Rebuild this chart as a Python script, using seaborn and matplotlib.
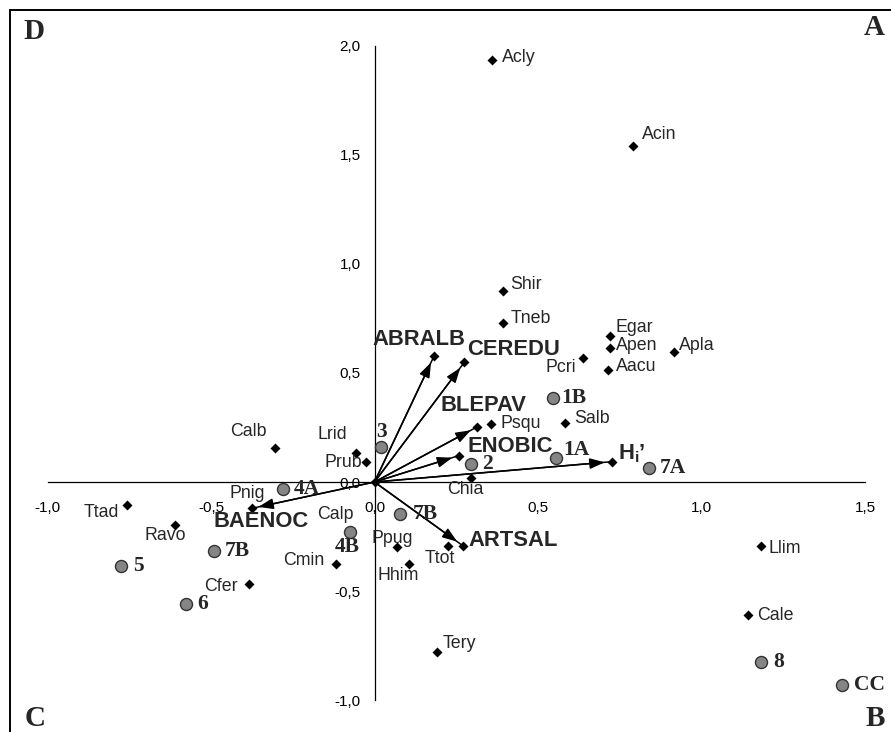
import numpy as np
import pandas as pd
import matplotlib
matplotlib.use("Agg")
import matplotlib.pyplot as plt
from matplotlib.patches import Rectangle
import seaborn as sns

# species scores
species = ["Acly", "Acin", "Shir", "Tneb", "Egar", "Apen", "Aacu", "Pcri", "Apla",
           "Psqu", "Salb", "Chia", "Calb", "Lrid", "Prub", "Pnig", "Calp", "Ttad",
           "Ravo", "Cfer", "Cmin", "Ppug", "Hhim", "Ttot", "Tery", "Llim", "Cale"]
species_x = [0.358, 0.791, 0.392, 0.392, 0.719, 0.719, 0.713, 0.639, 0.917,
             0.355, 0.583, 0.295, -0.303, -0.057, -0.026, -0.279, -0.075, -0.758,
             -0.610, -0.383, -0.118, 0.068, 0.106, 0.226, 0.190, 1.181, 1.143]
species_y = [1.934, 1.540, 0.877, 0.727, 0.670, 0.615, 0.513, 0.570, 0.596,
             0.264, 0.269, 0.017, 0.157, 0.132, 0.093, -0.033, -0.228, -0.105,
             -0.197, -0.469, -0.376, -0.299, -0.376, -0.292, -0.778, -0.292, -0.610]

# environmental vectors
env = ["ABRALB", "CEREDU", "BLEPAV", "ENOBIC", "Hi", "ARTSAL", "BAENOC"]
env_x = [0.182, 0.275, 0.313, 0.258, 0.725, 0.270, -0.376]
env_y = [0.577, 0.549, 0.252, 0.121, 0.093, -0.292, -0.121]

# sites
sites = ["3", "2", "1B", "1A", "7A", "4A", "7B", "4B", "7B", "5", "6", "8", "CC"]
sites_x = [0.020, 0.294, 0.547, 0.555, 0.840, -0.279, 0.079, -0.075, -0.491, -0.776, -0.577, 1.182, 1.429]
sites_y = [0.162, 0.081, 0.384, 0.111, 0.063, -0.033, -0.147, -0.228, -0.315, -0.384, -0.559, -0.824, -0.930]

ticks_x = [-1.0, -0.5, 0.0, 0.5, 1.0, 1.5]
ticks_y = [-1.0, -0.5, 0.0, 0.5, 1.0, 1.5, 2.0]

# label offsets in pixels (dx, dy down), alignment
sp_off = {
    "Acly": (10, -3, "left"), "Acin": (9, -11, "left"), "Shir": (8, -6, "left"),
    "Tneb": (8, -5, "left"), "Egar": (6, -8, "left"), "Apen": (6, -2, "left"),
    "Aacu": (8, -4, "left"), "Pcri": (-7, 10, "right"), "Apla": (5, -6, "left"),
    "Psqu": (10, -1, "left"), "Salb": (9, -5, "left"), "Chia": (-6, 11, "center"),
    "Calb": (-27, -16, "center"), "Lrid": (-24, -19, "center"), "Prub": (-4, 1, "right"),
    "Pnig": (-18, 4, "right"), "Calp": (-15, -17, "center"), "Ttad": (-25, 8, "center"),
    "Ravo": (-10, 11, "center"), "Cfer": (-12, 2, "right"), "Cmin": (-12, -4, "right"),
    "Ppug": (-4, -9, "center"), "Hhim": (-11, 11, "center"), "Ttot": (-9, 13, "center"),
    "Tery": (6, -8, "left"), "Llim": (8, 3, "left"), "Cale": (9, 0, "left"),
}
env_off = {
    "ABRALB": (-15, -17, "center"), "CEREDU": (49, -13, "center"), "BLEPAV": (7, -22, "center"),
    "ENOBIC": (51, -9, "center"), "Hi": (6, -8, "left"), "ARTSAL": (6, -5, "left"),
    "BAENOC": (10, 13, "center"),
}
site_off = [(0, -15, "center"), (11, 0, "left"), (8, 0, "left"), (7, -8, "left"),
            (11, 0, "left"), (10, 0, "left"), (12, 0, "left"), (-3, 15, "center"),
            (11, 0, "left"), (12, 0, "left"), (11, 0, "left"), (12, 0, "left"), (12, 0, "left")]

sns.set_style("white")
plt.rcParams["font.family"] = ["Liberation Sans", "DejaVu Sans"]
plt.rcParams["mathtext.fontset"] = "custom"
plt.rcParams["mathtext.rm"] = "Liberation Sans"
plt.rcParams["mathtext.bf"] = "Liberation Sans:bold"

W, H = 891, 732
fig = plt.figure(figsize=(W / 100, H / 100), dpi=100)
ax = fig.add_axes([0, 0, 1, 1])
ax.set_facecolor("none")
ax.set_xlim(-1.1453, 1.5795)
ax.set_ylim(-1.1457, 2.209)

# axes through origin
for s in ["top", "right"]:
    ax.spines[s].set_visible(False)
ax.spines["left"].set_position(("data", 0))
ax.spines["bottom"].set_position(("data", 0))
ax.spines["left"].set_bounds(-1.0, 2.0)
ax.spines["bottom"].set_bounds(-1.0, 1.5)
for s in ["left", "bottom"]:
    ax.spines[s].set_color("black")
    ax.spines[s].set_linewidth(0.9)
ax.set_xticks(ticks_x)
ax.set_yticks(ticks_y)
ax.set_xticklabels([f"{t:.1f}".replace(".", ",") for t in ticks_x])
ax.set_yticklabels([f"{t:.1f}".replace(".", ",") for t in ticks_y])
ax.tick_params(axis="x", direction="out", length=4, width=0.9, pad=10, labelsize=11, colors="black")
ax.tick_params(axis="y", direction="out", length=4, width=0.9, pad=6, labelsize=11, colors="black")

# arrows
for name, x, y in zip(env, env_x, env_y):
    ax.plot([0, x], [0, y], color="black", lw=1.1, zorder=2)
    ax.annotate("", xy=(x, y), xytext=(0, 0),
                arrowprops=dict(arrowstyle="-|>,head_length=0.5,head_width=0.18", color="black", lw=1.1,
                                shrinkA=0, shrinkB=5, mutation_scale=18), zorder=2)

sp_df = pd.DataFrame({"x": species_x + env_x + [0.0], "y": species_y + env_y + [0.0]})
sns.scatterplot(data=sp_df, x="x", y="y", marker="D", s=26, color="black",
                edgecolor="black", linewidth=0, ax=ax, zorder=3)

site_df = pd.DataFrame({"x": sites_x, "y": sites_y})
sns.scatterplot(data=site_df, x="x", y="y", marker="o", s=75, color="#858585",
                edgecolor="#333333", linewidth=1.0, ax=ax, zorder=4)
ax.set_xlabel("")
ax.set_ylabel("")

k = 0.72
for name, x, y in zip(species, species_x, species_y):
    dx, dy, ha = sp_off[name]
    ax.annotate(name, (x, y), xytext=(dx * k, -dy * k), textcoords="offset points",
                ha=ha, va="center", fontsize=12.8, zorder=5)

for name, x, y in zip(env, env_x, env_y):
    dx, dy, ha = env_off[name]
    label = r"H$_\mathregular{i}$’" if name == "Hi" else name
    ax.annotate(label, (x, y), xytext=(dx * k, -dy * k), textcoords="offset points",
                ha=ha, va="center", fontsize=15.8, fontweight="bold", zorder=5)

for (name, x, y), (dx, dy, ha) in zip(zip(sites, sites_x, sites_y), site_off):
    ax.annotate(name, (x, y), xytext=(dx * k, -dy * k), textcoords="offset points",
                ha=ha, va="center", fontsize=15.5, fontweight="bold",
                family="Liberation Serif", zorder=5)

# frame (only left / top visible in crop)
fig.add_artist(Rectangle((10 / W, -0.2), 2, 1.2 - 10 / H, transform=fig.transFigure,
                         fill=False, lw=1.4, edgecolor="black"))

corner = dict(fontsize=21, fontweight="bold", family="Liberation Serif", va="baseline")
fig.text(23 / W, 1 - 39 / H, "D", ha="left", **corner)
fig.text(885 / W, 1 - 35 / H, "A", ha="right", **corner)
fig.text(25 / W, 1 - 726 / H, "C", ha="left", **corner)
fig.text(885 / W, 1 - 726 / H, "B", ha="right", **corner)

fig.savefig("out.png", dpi=100)
